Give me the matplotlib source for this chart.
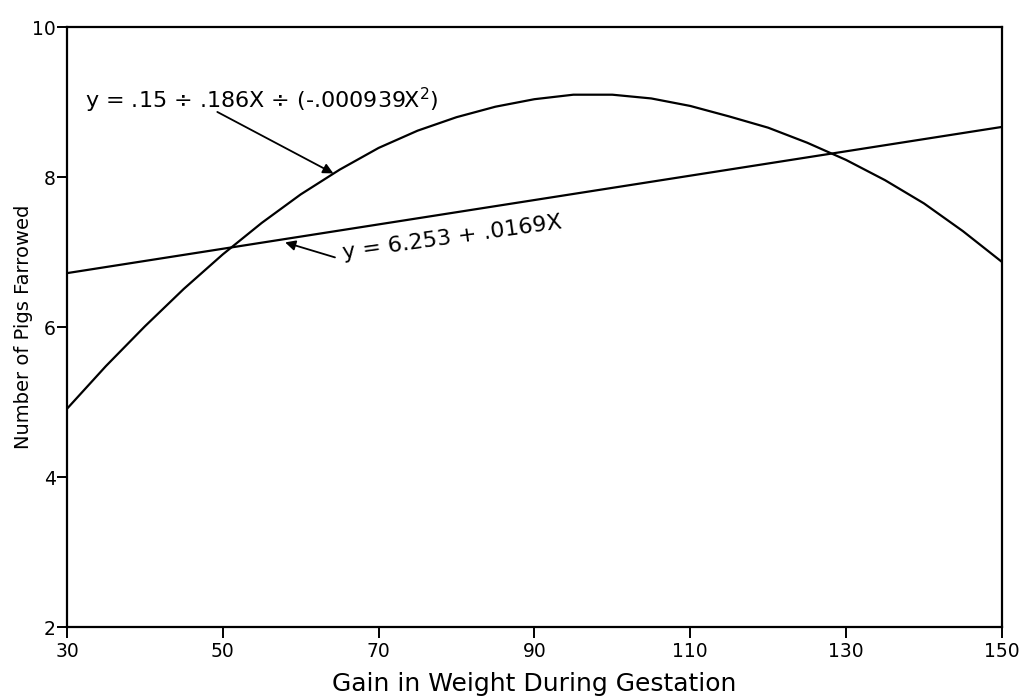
import numpy as np
import matplotlib.pyplot as plt

# values (every 5 units of gain)
gain = [30, 35, 40, 45, 50, 55, 60, 65, 70, 75, 80, 85, 90,
        95, 100, 105, 110, 115, 120, 125, 130, 135, 140, 145, 150]
pigs_quadratic = [4.91, 5.48, 6.01, 6.51, 6.97, 7.39, 7.77, 8.10, 8.39, 8.62, 8.80, 8.94, 9.04,
                  9.10, 9.10, 9.05, 8.95, 8.81, 8.66, 8.46, 8.23, 7.96, 7.65, 7.28, 6.87]
line_gain = [30, 150]
pigs_linear = [6.72, 8.67]

xticks = [30, 50, 70, 90, 110, 130, 150]
yticks = [2, 4, 6, 8, 10]

plt.rcParams["font.family"] = ["DejaVu Sans"]

fig = plt.figure(figsize=(10.19, 6.98), dpi=100)
ax = fig.add_axes([0.0657, 0.1017, 0.9175, 0.8593])

ax.plot(gain, pigs_quadratic, color="black", lw=1.6, solid_joinstyle="round")
ax.plot(line_gain, pigs_linear, color="black", lw=1.6)

ax.set_xlim(30, 150)
ax.set_ylim(2, 10)
ax.set_xticks(xticks)
ax.set_yticks(yticks)
ax.tick_params(axis="both", direction="out", labelsize=13.5, width=1.4, color="black")
ax.tick_params(axis="x", length=8, pad=3)
ax.tick_params(axis="y", length=7, pad=1)
for s in ax.spines.values():
    s.set_linewidth(1.6)

ax.set_xlabel("Gain in Weight During Gestation", fontsize=18, labelpad=8)
ax.set_ylabel("Number of Pigs Farrowed", fontsize=14, labelpad=-1)

arrow = dict(arrowstyle="-|>", color="black", lw=1.3, mutation_scale=15, shrinkA=0, shrinkB=0)

ax.text(55.0, 9.03, "y = .15 ÷ .186X ÷ (-.000939X$^2$)", ha="center", va="center", fontsize=16)
ax.annotate("", xy=(64.2, 8.05), xytext=(49.3, 8.87), arrowprops=arrow)

ax.annotate("", xy=(58.0, 7.13), xytext=(64.4, 6.93), arrowprops=arrow)
ax.text(79.4, 7.19, "y = 6.253 + .0169X", rotation=8, ha="center", va="center", fontsize=16)

fig.savefig("out.png", dpi=100)
